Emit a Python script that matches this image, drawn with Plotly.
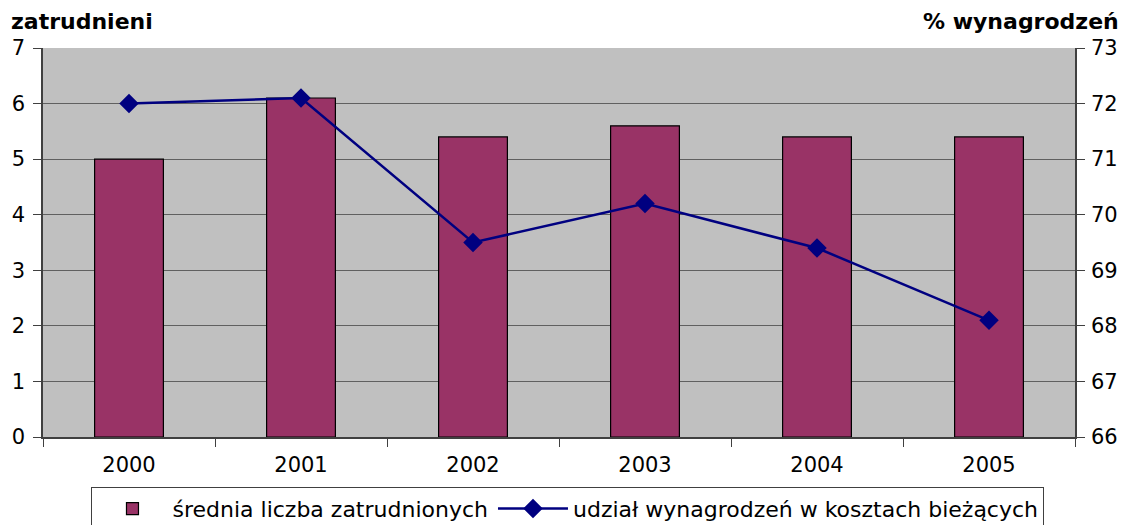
import plotly.graph_objects as go

years = ["2000", "2001", "2002", "2003", "2004", "2005"]
employees = [5.0, 6.1, 5.4, 5.6, 5.4, 5.4]
wage_share = [72.0, 72.1, 69.5, 70.2, 69.4, 68.1]

bar_name = "średnia liczba zatrudnionych"
line_name = "udział wynagrodzeń w kosztach bieżących"

fig = go.Figure()
fig.add_trace(go.Bar(
    x=years, y=employees, name=bar_name,
    marker=dict(color="#993366", line=dict(color="black", width=1.2)),
))
fig.add_trace(go.Scatter(
    x=years, y=wage_share, name=line_name, yaxis="y2",
    mode="lines+markers",
    line=dict(color="#000080", width=2.5),
    marker=dict(symbol="diamond", size=15, color="#000080"),
))

FAM = "DejaVu Sans, Liberation Sans, Arial, sans-serif"
font = dict(family=FAM, size=21, color="black")

# page body has an 8px default margin; offsets below compensate for it
fig.update_layout(
    width=1127, height=525,
    margin=dict(l=35, r=60, t=40, b=96),
    paper_bgcolor="white",
    plot_bgcolor="#C0C0C0",
    font=font,
    bargap=0.6,
    showlegend=True,
    legend=dict(
        orientation="h", xref="paper", x=0.5087, xanchor="center",
        yref="container", y=0.088, yanchor="top",
        bordercolor="#404040", borderwidth=1, bgcolor="white",
        font=dict(size=22), tracegroupgap=0, itemwidth=70,
    ),
    xaxis=dict(
        type="category", tickson="boundaries", ticks="outside", ticklen=8,
        tickcolor="#404040", showline=True, linecolor="#404040", linewidth=1.5,
        showgrid=False, tickfont=dict(size=21), automargin=False,
        ticklabelstandoff=8,
    ),
    yaxis=dict(
        range=[0, 7], dtick=1, ticks="outside", ticklen=8, tickcolor="#404040",
        showline=True, linecolor="#404040", linewidth=1.5,
        showgrid=True, gridcolor="#606060", gridwidth=1,
        zeroline=False, tickfont=dict(size=21), automargin=False,
        ticklabelstandoff=4,
    ),
    yaxis2=dict(
        range=[66, 73], dtick=1, overlaying="y", side="right",
        ticks="outside", ticklen=8, tickcolor="#404040",
        showline=True, linecolor="#404040", linewidth=1.5,
        showgrid=False, zeroline=False, tickfont=dict(size=21), automargin=False,
        ticklabelstandoff=2,
    ),
    annotations=[
        dict(text="<b>zatrudnieni</b>", xref="paper", yref="paper",
             x=-0.033, y=1.0, xanchor="left", yanchor="bottom", yshift=12,
             showarrow=False, font=dict(size=22)),
        dict(text="<b>% wynagrodzeń</b>", xref="paper", yref="paper",
             x=1.045, y=1.0, xanchor="right", yanchor="bottom", yshift=12,
             showarrow=False, font=dict(size=22)),
    ],
)

fig.write_html("out.html")
